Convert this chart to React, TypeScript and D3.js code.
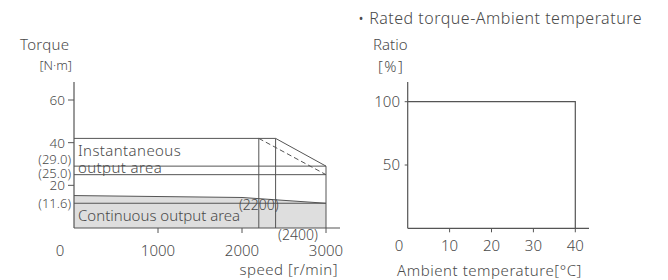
import React from "react";
import * as d3 from "d3";

// torque - speed characteristics
const speedTicks = [1000, 2000, 3000];
const torqueTicks = [60, 40, 20];
const torqueMarks = [29.0, 25.0, 11.6];
const speedMarks = [2200, 2400];
const instantaneous: [number, number][] = [[0, 42], [2400, 42], [3000, 29.0]];
const instantaneousDashed: [number, number][] = [[2200, 42], [3000, 25.0]];
const continuous: [number, number][] = [[0, 15.2], [2000, 14.3], [3000, 11.6]];

// rated torque - ambient temperature
const tempTicks = [10, 20, 30, 40];
const ratioTicks = [100, 50];
const derating: [number, number][] = [[0, 100], [40, 100], [40, 0]];

const INK = "#555";
const TXT = "#4a4a4a";
const FONT = "'Noto Sans', sans-serif";

export default function App() {
  const x = d3.scaleLinear().domain([0, 3000]).range([74, 326]);
  const y = d3.scaleLinear().domain([0, 60]).range([228, 100]);
  const line = d3.line<[number, number]>().x(d => x(d[0])).y(d => y(d[1]));
  const area = d3.area<[number, number]>().x(d => x(d[0])).y0(y(0)).y1(d => y(d[1]));

  const tx = d3.scaleLinear().domain([0, 40]).range([407.7, 575.3]);
  const ty = d3.scaleLinear().domain([0, 100]).range([228.3, 101.7]);
  const tline = d3.line<[number, number]>().x(d => tx(d[0])).y(d => ty(d[1]));

  const topTorque = instantaneous[0][1];
  const endSpeed = 3000;

  // label baselines nudged so the crowded left labels don't collide
  const yLabel = (v: number) => {
    if (v === 29.0) return y(v) - 2.5;
    if (v === 25.0) return y(v) + 3;
    if (v === 20) return y(v) + 4.5;
    return y(v) + 5;
  };

  return (
    <svg width={668} height={280} style={{ position: "absolute", left: 0, top: 0, background: "#fff" }}
      fontFamily={FONT} fontWeight={350} fill={TXT}>
      {/* left chart */}
      <path d={area(continuous) || ""} fill="#dedede" stroke="none" />
      <path d={line(continuous) || ""} fill="none" stroke={INK} strokeWidth={1} />
      {torqueMarks.map(v => (
        <line key={v} x1={x(0)} x2={x(endSpeed)} y1={y(v)} y2={y(v)} stroke={INK} />
      ))}
      {speedMarks.map(s => (
        <line key={s} x1={x(s)} x2={x(s)} y1={y(topTorque)} y2={y(0)} stroke={INK} />
      ))}
      <line x1={x(endSpeed)} x2={x(endSpeed)} y1={y(instantaneous[2][1])} y2={y(0)} stroke={INK} />
      <path d={line(instantaneous) || ""} fill="none" stroke={INK} />
      <path d={line(instantaneousDashed) || ""} fill="none" stroke={INK} strokeDasharray="5,3" />
      {/* axes */}
      <line x1={x(0)} x2={x(0)} y1={82} y2={y(0)} stroke={INK} strokeWidth={1.2} />
      <line x1={x(0)} x2={340} y1={y(0)} y2={y(0)} stroke={INK} strokeWidth={1.2} />
      {torqueTicks.map(t => (
        <g key={t}>
          <line x1={x(0) - 6} x2={x(0)} y1={y(t)} y2={y(t)} stroke={INK} />
          <text x={65} y={yLabel(t)} fontSize={13.5} textAnchor="end">{t}</text>
        </g>
      ))}
      {torqueMarks.map(v => (
        <text key={v} x={71} y={yLabel(v)} fontSize={13} textAnchor="end">({v.toFixed(1)})</text>
      ))}
      {speedTicks.map(s => (
        <g key={s}>
          <line x1={x(s)} x2={x(s)} y1={y(0)} y2={y(0) + 5} stroke={INK} />
          <text x={x(s)} y={256} fontSize={15} textAnchor="middle">{s}</text>
        </g>
      ))}
      <text x={60} y={256} fontSize={15} textAnchor="middle">0</text>
      <text x={x(speedMarks[0])} y={210} fontSize={14} textAnchor="middle">({speedMarks[0]})</text>
      <text x={298} y={240} fontSize={14} textAnchor="middle">({speedMarks[1]})</text>
      <text x={78} y={156} fontSize={15} letterSpacing={0.4}>Instantaneous</text>
      <text x={78} y={173} fontSize={15} letterSpacing={0.4}>output area</text>
      <text x={78} y={221} fontSize={15}>Continuous output area</text>
      <text x={20} y={50} fontSize={15} letterSpacing={0.3}>Torque</text>
      <text x={72} y={70} fontSize={13} textAnchor="end">[N·m]</text>
      <text x={338} y={275} fontSize={15} letterSpacing={0.5} textAnchor="end">speed [r/min]</text>

      {/* right chart */}
      <path d={tline(derating) || ""} fill="none" stroke={INK} strokeWidth={1.2} />
      <line x1={tx(0)} x2={tx(0)} y1={82} y2={ty(0)} stroke={INK} strokeWidth={1.2} />
      <line x1={tx(0)} x2={589} y1={ty(0)} y2={ty(0)} stroke={INK} strokeWidth={1.2} />
      {ratioTicks.map(t => (
        <g key={t}>
          <line x1={tx(0) - 3} x2={tx(0)} y1={ty(t)} y2={ty(t)} stroke={INK} />
          <text x={400} y={ty(t) + 5} fontSize={15} textAnchor="end">{t}</text>
        </g>
      ))}
      {tempTicks.map(t => (
        <g key={t}>
          <line x1={tx(t)} x2={tx(t)} y1={ty(0)} y2={ty(0) + 4} stroke={INK} />
          <text x={tx(t)} y={251} fontSize={15} textAnchor="middle">{t}</text>
        </g>
      ))}
      <text x={399} y={251} fontSize={15} textAnchor="middle">0</text>
      <text x={358} y={24} fontSize={16} letterSpacing={0.5}>• Rated torque-Ambient temperature</text>
      <text x={373} y={50} fontSize={15}>Ratio</text>
      <text x={378} y={72} fontSize={15} letterSpacing={1.5}>[%]</text>
      <text x={397} y={276} fontSize={15} letterSpacing={0.55}>Ambient temperature[°C]</text>
    </svg>
  );
}
